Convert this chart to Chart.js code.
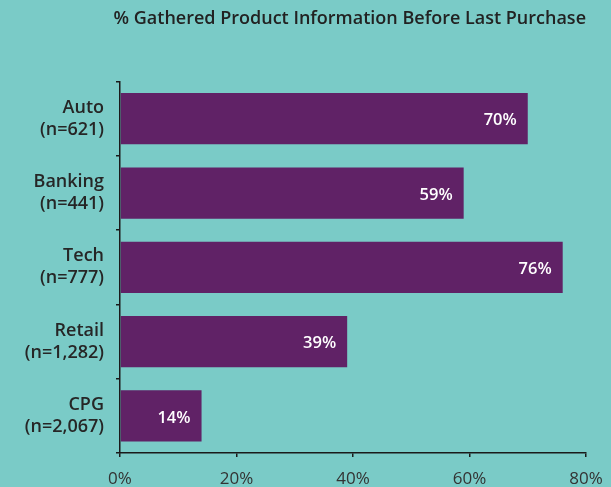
<!DOCTYPE html>
<html>
<head>
<meta charset="utf-8">
<script src="https://cdn.jsdelivr.net/npm/chart.js@4.4.1/dist/chart.umd.min.js"></script>
<style>
  html, body { margin: 0; padding: 0; background: #7acbc7; }
  #wrap { width: 611px; height: 487px; }
</style>
</head>
<body>
<div id="wrap"><canvas id="infoChart" width="611" height="487"></canvas></div>
<script>
// ---- data ----
const categories = [['Auto', '(n=621)'], ['Banking', '(n=441)'], ['Tech', '(n=777)'], ['Retail', '(n=1,282)'], ['CPG', '(n=2,067)']];
const gatheredPct = [70, 59, 76, 39, 14];
const xTicks = [0, 20, 40, 60, 80];
const chartTitle = '% Gathered Product Information Before Last Purchase';

const FONT = "'Open Sans', 'DejaVu Sans', sans-serif";
const BAR_COLOR = '#602266';
const AXIS_COLOR = '#1a1a1a';

// value labels drawn inside the end of each bar
const barValueLabels = {
  id: 'barValueLabels',
  afterDatasetsDraw(chart) {
    const ctx = chart.ctx;
    const meta = chart.getDatasetMeta(0);
    ctx.save();
    ctx.fillStyle = '#ffffff';
    ctx.font = `600 16.5px ${FONT}`;
    ctx.textAlign = 'right';
    ctx.textBaseline = 'middle';
    meta.data.forEach((bar, i) => {
      ctx.fillText(gatheredPct[i] + '%', bar.x - 11, bar.y + 2);
    });
    ctx.restore();
  },
};

new Chart(document.getElementById('infoChart'), {
  type: 'bar',
  data: {
    labels: categories,
    datasets: [{
      data: gatheredPct,
      backgroundColor: BAR_COLOR,
      borderWidth: 0,
      categoryPercentage: 1,
      barPercentage: 0.69,
    }],
  },
  options: {
    indexAxis: 'y',
    responsive: false,
    animation: false,
    layout: { padding: { left: 0, right: 25, top: 0, bottom: 0 } },
    plugins: {
      legend: { display: false },
      tooltip: { enabled: false },
      title: {
        display: true,
        text: chartTitle,
        align: 'end',
        color: '#222222',
        font: { family: FONT, size: 18, weight: '600' },
        padding: { top: 8, bottom: 52 },
      },
    },
    scales: {
      x: {
        min: 0,
        max: 80,
        afterBuildTicks: scale => { scale.ticks = xTicks.map(v => ({ value: v })); },
        afterFit: scale => {
          scale.height = 33;
          scale.paddingLeft = 0;
          scale.paddingRight = 0;
        },
        border: { display: true, color: AXIS_COLOR, width: 1.5 },
        grid: { drawOnChartArea: false, drawTicks: true, tickLength: 4, color: AXIS_COLOR, lineWidth: 1.5 },
        ticks: {
          color: '#333333',
          padding: 12,
          font: { family: FONT, size: 17 },
          callback: v => v + '%',
        },
      },
      y: {
        afterFit: scale => { scale.width = 120; },
        border: { display: true, color: AXIS_COLOR, width: 1.5 },
        grid: { drawOnChartArea: false, drawTicks: true, tickLength: 4, color: AXIS_COLOR, lineWidth: 1.5, offset: true },
        ticks: {
          color: '#262626',
          padding: 12,
          font: { family: FONT, size: 18, weight: '600', lineHeight: 1.22 },
        },
      },
    },
  },
  plugins: [barValueLabels],
});
</script>
</body>
</html>
